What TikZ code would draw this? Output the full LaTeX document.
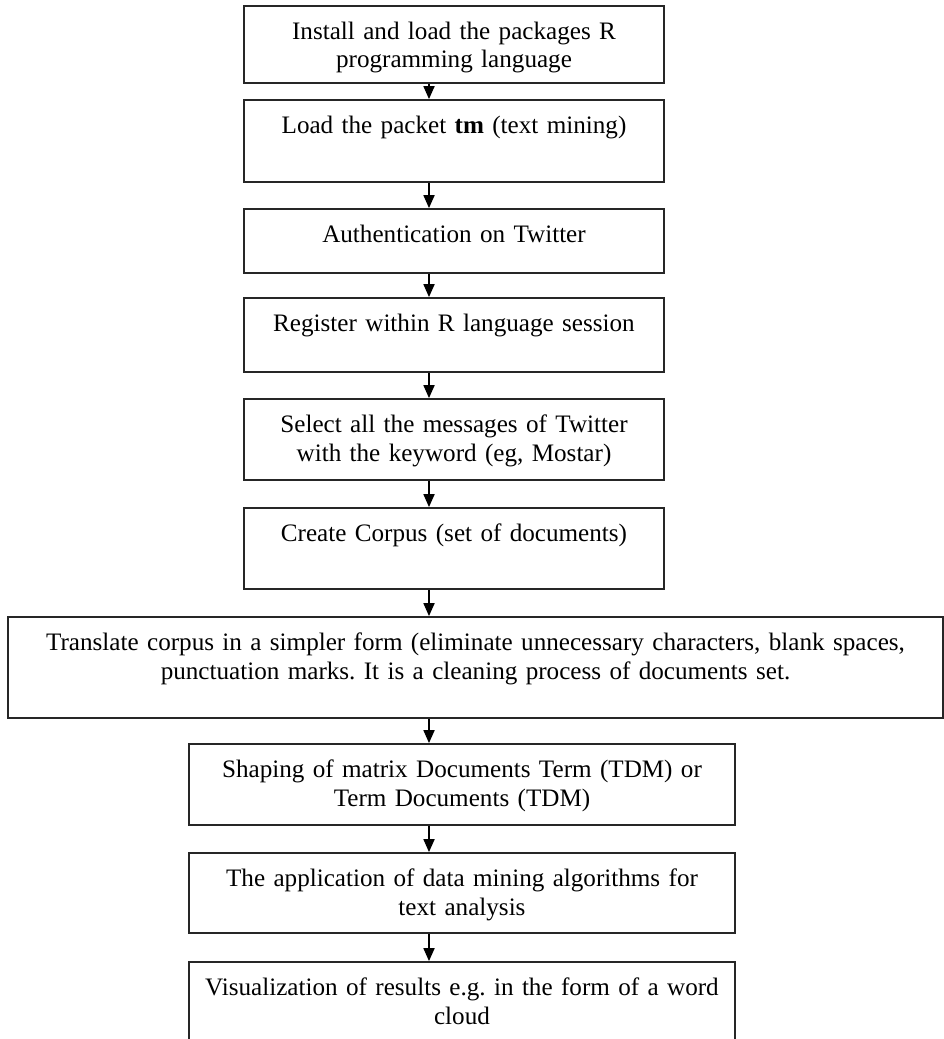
\documentclass[tikz,border=0pt]{standalone}
\usepackage{fontspec}
\setmainfont{Liberation Serif}
\usepackage{tikz}
\usetikzlibrary{arrows.meta}
\usetikzlibrary{positioning,calc}
\frenchspacing
\tikzset{
    stepbox/.style={
        draw=black!85,
        line width=1pt,
        rectangle,
        fill=white,
        inner xsep=0pt,
        inner ysep=0pt,
        text width=8.4cm,
        align=center,
        text height=0.66cm,
        text depth=#1,
        font=\fontsize{14.3}{16.5}\selectfont
    },
    flow/.style={
        draw=black,
        line width=1pt,
        -{Triangle[length=0.26cm, width=0.22cm]}
    }
}

\begin{document}
\begin{tikzpicture}
  \useasboundingbox (0,0) rectangle (18.88,-20.78);
  \clip (0,0) rectangle (18.88,-20.78);

  % Steps
  \node[stepbox=0.88cm] (s1) at (9.08,-0.89) {Install and load the packages R\\programming language};
  \node[stepbox=0.98cm] (s2) at (9.08,-2.82) {Load the packet \textbf{tm} (text mining)};
  \node[stepbox=0.62cm] (s3) at (9.08,-4.82) {Authentication on Twitter};
  \node[stepbox=0.82cm] (s4) at (9.08,-6.70) {Register within R language session};
  \node[stepbox=0.96cm] (s5) at (9.08,-8.79) {Select all the messages of Twitter\\with the keyword (eg, Mostar)};
  \node[stepbox=0.96cm] (s6) at (9.08,-10.97) {Create Corpus (set of documents)};
  \node[stepbox=1.36cm, text width=18.7cm] (s7) at (9.51,-13.35) {Translate corpus in a simpler form (eliminate unnecessary characters, blank spaces,\\punctuation marks. It is a cleaning process of documents set.};
  \node[stepbox=0.96cm, text width=10.92cm] (s8) at (9.24,-15.69) {Shaping of matrix Documents Term (TDM) or\\Term Documents (TDM)};
  \node[stepbox=0.94cm, text width=10.92cm] (s9) at (9.24,-17.86) {The application of data mining algorithms for\\text analysis};
  \node[stepbox=1.34cm, text width=10.92cm] (s10) at (9.24,-20.24) {Visualization of results e.g. in the form of a word\\cloud};

  % Arrows
  \draw[flow] ([xshift=-5mm]s1.south) -- ([xshift=-5mm]s2.north);
  \draw[flow] ([xshift=-5mm]s2.south) -- ([xshift=-5mm]s3.north);
  \draw[flow] ([xshift=-5mm]s3.south) -- ([xshift=-5mm]s4.north);
  \draw[flow] ([xshift=-5mm]s4.south) -- ([xshift=-5mm]s5.north);
  \draw[flow] ([xshift=-5mm]s5.south) -- ([xshift=-5mm]s6.north);
  \draw[flow] ([xshift=-5mm]s6.south) -- ([xshift=-5mm]s6.south |- s7.north);
  \draw[flow] ([xshift=-5mm]s6.south |- s7.south) -- ([xshift=-5mm]s6.south |- s8.north);
  \draw[flow] ([xshift=-6.6mm]s8.south) -- ([xshift=-6.6mm]s9.north);
  \draw[flow] ([xshift=-6.6mm]s9.south) -- ([xshift=-6.6mm]s10.north);
\end{tikzpicture}
\end{document}
